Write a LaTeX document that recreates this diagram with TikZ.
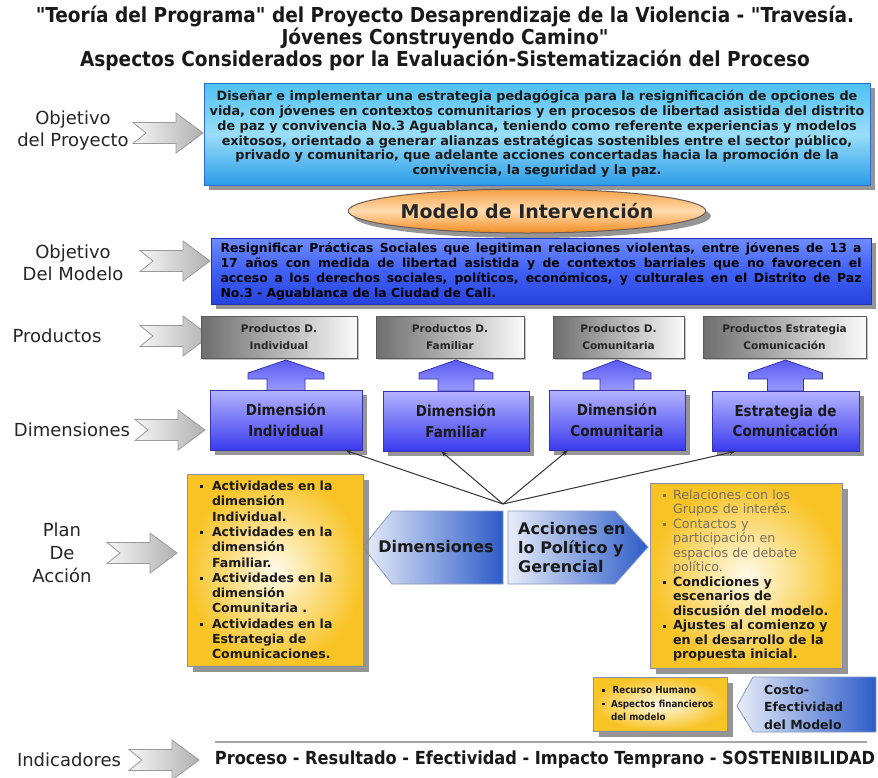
\documentclass[tikz,border=0pt]{standalone}
\usepackage{fontspec}
\setmainfont{DejaVu Sans}
\newfontfamily\verd{DejaVu Sans}
\IfFontExistsTF{DejaVu Sans Condensed}{\newfontfamily\taho{DejaVu Sans Condensed}}{\newfontfamily\taho[FakeStretch=0.9]{DejaVu Sans}}
\usetikzlibrary{shadows,arrows.meta,calc,shapes.geometric}
\definecolor{arrL}{HTML}{F6F6F6}
\definecolor{arrR}{HTML}{B0B0B0}
\definecolor{arrB}{HTML}{9A9A9A}
\definecolor{objT}{HTML}{4EC0F2}
\definecolor{objM}{HTML}{9ADEF9}
\definecolor{objB}{HTML}{2B9CE8}
\definecolor{objE}{HTML}{2E6CD0}
\definecolor{modT}{HTML}{6F8DFF}
\definecolor{modM}{HTML}{3F60F5}
\definecolor{modB}{HTML}{2743DE}
\definecolor{modE}{HTML}{2030B0}
\definecolor{ellT}{HTML}{F6A042}
\definecolor{ellM}{HTML}{FFDCB0}
\definecolor{ellB}{HTML}{F38A1E}
\definecolor{ellE}{HTML}{6A5A5A}
\definecolor{prodL}{HTML}{6E6E6E}
\definecolor{prodR}{HTML}{FAFAFA}
\definecolor{prodE}{HTML}{5A5A5A}
\definecolor{dimT}{HTML}{B4B4FF}
\definecolor{dimB}{HTML}{3A3AEE}
\definecolor{dimE}{HTML}{3535A8}
\definecolor{upT}{HTML}{5A5AF2}
\definecolor{upB}{HTML}{9A9AFF}
\definecolor{yelO}{HTML}{F8C324}
\definecolor{yelI}{HTML}{FFFBEA}
\definecolor{yelE}{HTML}{8C8CB0}
\definecolor{pentL}{HTML}{E8EDF9}
\definecolor{pentR}{HTML}{2D5CC8}
\definecolor{pentE}{HTML}{8A9AB8}
\definecolor{shadowc}{HTML}{8A8A8A}
\definecolor{graytxt}{HTML}{7A7060}
\newcommand\yb{\makebox[12pt][l]{\raisebox{2.4pt}{\rule{2.8pt}{2.8pt}}}}
\newcommand\yi{\hspace*{12pt}}
\newcommand\ybr{\hspace*{6pt}\makebox[10pt][l]{\raisebox{2.2pt}{\rule{2.6pt}{2.6pt}}}}
\newcommand\yir{\hspace*{16pt}}
\newcommand\ybs{\hspace*{3pt}\makebox[9pt][l]{\raisebox{2.2pt}{\rule{2.6pt}{2.6pt}}}}
\newcommand\yis{\hspace*{12pt}}
\newcommand\upar[3]{\path[uparsty] ({#1-#3},391) -- ({#1-#3},379) -- ({#1-#2},379) -- ({#1-#2},373) -- (#1,360) -- ({#1+#2},373) -- ({#1+#2},379) -- ({#1+#3},379) -- ({#1+#3},391) -- cycle;}
\tikzset{
  lbl/.style={font=\verd\fontsize{18}{22}\selectfont, align=center, text=black!85, inner sep=0},
  shd/.style={drop shadow={shadow xshift=5pt,shadow yshift=-5pt,fill=shadowc,opacity=0.9}},
  objpbox/.style={rectangle, draw=objE, line width=1pt, top color=objT, bottom color=objB, middle color=objM, shd, inner sep=0},
  modbox/.style={rectangle, draw=modE, line width=1pt, top color=modT, bottom color=modB, middle color=modM, shd, inner sep=0},
  prodbox/.style={rectangle, draw=prodE, line width=0.8pt, left color=prodL, right color=prodR, drop shadow={shadow xshift=2pt,shadow yshift=-2pt,fill=shadowc}, inner sep=0, minimum height=42pt, align=center, font=\verd\bfseries\fontsize{10.5}{17}\selectfont, text=black!85},
  dimbox/.style={rectangle, draw=dimE, line width=0.8pt, top color=dimT, bottom color=dimB, shd, inner sep=0, minimum height=60pt, align=center, font=\taho\bfseries\fontsize{15}{20.5}\selectfont, text=black!90},
  uparsty/.style={draw=dimE, line width=0.8pt, top color=upT, bottom color=upB},
  ybox/.style={rectangle, draw=yelE, line width=1pt, inner color=yelI, outer color=yelO, drop shadow={shadow xshift=6pt,shadow yshift=-6pt,fill=shadowc,opacity=0.9}, inner sep=0, align=left},
  pent/.style={draw=pentE, line width=0.8pt, left color=pentL, right color=pentR},
  penttxt/.style={font=\verd\bfseries\fontsize{16}{19}\selectfont, text=black!90, inner sep=0, align=left},
  conn/.style={black!80, line width=1pt, -{Stealth[length=6pt,width=5pt]}},
  grayarrow/.pic={\path[left color=arrL, right color=arrR, draw=arrB, line width=0.8pt] (0,-10.5) -- (43,-10.5) -- (43,-20) -- (70,0) -- (43,20) -- (43,10.5) -- (0,10.5) -- (13,0) -- cycle;}
}
\begin{document}
\begin{tikzpicture}[x=1pt,y=-1pt]
\useasboundingbox (0,0) rectangle (878,777);
\fill[white] (0,0) rectangle (878,777);

% title
\node[font=\taho\bfseries\fontsize{20.6}{20.5}\selectfont, align=center, inner sep=0, text=black!90] (title) at (445,38)
 {"Teoría del Programa" del Proyecto Desaprendizaje de la Violencia - "Travesía.\\ Jóvenes Construyendo Camino"\\ Aspectos Considerados por la Evaluación-Sistematización del Proceso};

% left labels
\node[lbl] (lobj) at (73,131) {Objetivo\\del Proyecto};
\node[lbl] (lmod) at (73,263) {Objetivo\\Del Modelo};
\node[lbl] (lprod) at (57,336) {Productos};
\node[lbl] (ldim) at (72,430) {Dimensiones};
\node[lbl, font=\verd\fontsize{18}{23}\selectfont] (lplan) at (62,553) {Plan\\De\\Acción};
\node[lbl] (lind) at (69,760) {Indicadores};

% gray arrows
\pic at (133,133) {grayarrow};
\pic at (140,261) {grayarrow};
\pic at (140,336) {grayarrow};
\pic at (135,430) {grayarrow};
\pic at (107,553) {grayarrow};
\pic at (129,760) {grayarrow};

% objetivo del proyecto
\node[objpbox, minimum width=666pt, minimum height=102pt, align=center, font=\verd\bfseries\fontsize{12.8}{14.8}\selectfont, text=black!90] (objp) at (537,134)
 {Diseñar e implementar una estrategia pedagógica para la resignificación de opciones de\\
  vida, con jóvenes en contextos comunitarios y en procesos de libertad asistida del distrito\\
  de paz y convivencia No.3 Aguablanca, teniendo como referente experiencias y modelos\\
  exitosos, orientado a generar alianzas estratégicas sostenibles entre el sector público,\\
  privado y comunitario, que adelante acciones concertadas hacia la promoción de la\\
  convivencia, la seguridad y la paz.};

% modelo de intervencion
\node[ellipse, draw=ellE, line width=1pt, top color=ellT, bottom color=ellB, middle color=ellM, shd, minimum width=295pt, minimum height=44pt, inner sep=0, font=\verd\bfseries\fontsize{19}{22}\selectfont, text=black!85] (model) at (527,211) {Modelo de Intervención};

% objetivo del modelo
\node[modbox, minimum width=660pt, minimum height=66pt, align=left, font=\verd\bfseries\fontsize{12.4}{15}\selectfont, text=black] (objm) at (541,271)
 {\makebox[641pt][s]{Resignificar Prácticas Sociales que legitiman relaciones violentas, entre jóvenes de 13 a}\\
  \makebox[641pt][s]{17 años con medida de libertad asistida y de contextos barriales que no favorecen el}\\
  \makebox[641pt][s]{acceso a los derechos sociales, políticos, económicos, y culturales en el Distrito de Paz}\\
  \makebox[641pt][l]{No.3 - Aguablanca de la Ciudad de Cali.}};

% productos
\node[prodbox, minimum width=156pt] (p1) at (279,337) {Productos D.\\Individual};
\node[prodbox, minimum width=148pt] (p2) at (450,337) {Productos D.\\Familiar};
\node[prodbox, minimum width=131pt] (p3) at (618.5,337) {Productos D.\\Comunitaria};
\node[prodbox, minimum width=163pt] (p4) at (784.5,337) {Productos Estrategia\\Comunicación};

% up arrows
\upar{286}{38}{19}
\upar{456}{37}{18}
\upar{617}{34}{17}
\upar{785.5}{37}{18}

% dimensiones
\node[dimbox, minimum width=152pt] (d1) at (286,420) {Dimensión\\Individual};
\node[dimbox, minimum width=146pt] (d2) at (456,421) {Dimensión\\Familiar};
\node[dimbox, minimum width=136pt] (d3) at (617,420) {Dimensión\\Comunitaria};
\node[dimbox, minimum width=147pt] (d4) at (785.5,421) {Estrategia de\\Comunicación};

% pentagons
\path[pent] (363,547) -- (392,511) -- (503,511) -- (503,584) -- (392,584) -- cycle;
\node[penttxt] (dimtxt) at (436,547) {Dimensiones};
\path[pent] (508,511) -- (615,511) -- (648,547) -- (615,584) -- (508,584) -- cycle;
\node[penttxt, anchor=west] (acctxt) at (518,548) {Acciones en\\lo Político y\\Gerencial};

% connectors
\coordinate (hub) at (503,504);
\draw[conn] (hub) -- ($(d1.south west)!0.89!(d1.south east)$);
\draw[conn] (hub) -- ($(d2.south west)!0.40!(d2.south east)$);
\draw[conn] (hub) -- ($(d3.south west)!0.14!(d3.south east)$);
\draw[conn] (hub) -- ($(d4.south west)!0.16!(d4.south east)$);

% yellow boxes
\node[ybox, minimum width=176pt, minimum height=192pt, text width=150pt, font=\verd\bfseries\fontsize{12.5}{15.3}\selectfont, text=black!90] (yl) at (275,570)
 {\yb Actividades en la\\ \yi dimensión\\ \yi Individual.\\
  \yb Actividades en la\\ \yi dimensión\\ \yi Familiar.\\
  \yb Actividades en la\\ \yi dimensión\\ \yi Comunitaria .\\
  \yb Actividades en la\\ \yi Estrategia de\\ \yi Comunicaciones.};

\node[ybox, minimum width=192pt, minimum height=185pt, text width=178pt, font=\verd\fontsize{12.7}{14.5}\selectfont, text=black!90] (yr) at (746,575.5)
 {{\color{graytxt}\ybr Relaciones con los\\ \yir Grupos de interés.\\
  \ybr Contactos y\\ \yir participación en\\ \yir espacios de debate\\ \yir político.}\\
  {\bfseries \ybr Condiciones y\\ \yir escenarios de\\ \yir discusión del modelo.\\
  \ybr Ajustes al comienzo y\\ \yir en el desarrollo de la\\ \yir propuesta inicial.}};

\node[ybox, minimum width=134pt, minimum height=54pt, text width=122pt, font=\taho\bfseries\fontsize{9.7}{13.5}\selectfont, text=black!90] (yb) at (660,704)
 {\ybs\,Recurso Humano\\ \ybs Aspectos financieros\\ \yis del modelo};

% costo-efectividad
\path[pent] (737,706) -- (753,677) -- (876,677) -- (876,732) -- (753,732) -- cycle;
\node[penttxt, anchor=west, font=\verd\bfseries\fontsize{12.5}{17.5}\selectfont] (costo) at (764,707) {Costo-\\Efectividad\\del Modelo};

% indicadores
\coordinate (ruleL) at (215,742);
\coordinate (ruleR) at (867,742);
\draw[black!35, line width=1.5pt] (ruleL) -- (ruleR);
\node[font=\taho\bfseries\fontsize{18}{20}\selectfont, inner sep=0, text=black!90] (ind) at (545,760) {Proceso - Resultado - Efectividad - Impacto Temprano - SOSTENIBILIDAD};
\end{tikzpicture}
\end{document}
